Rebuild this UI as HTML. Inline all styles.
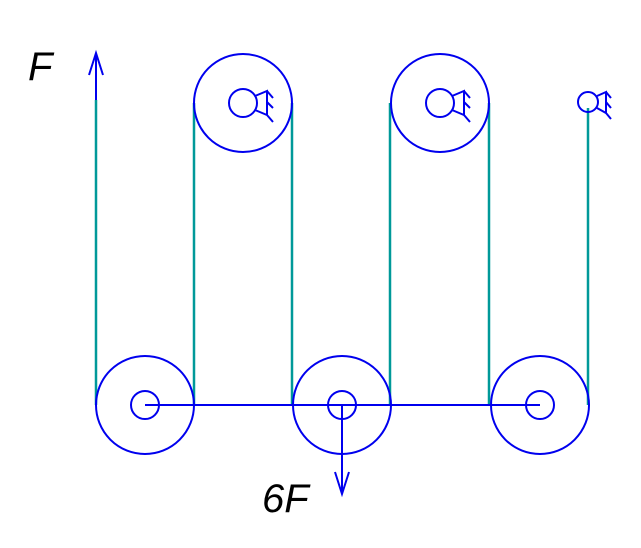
<!DOCTYPE html><html><head><style>body{margin:0;background:#fff}</style></head><body>
<svg width="641" height="543" xmlns="http://www.w3.org/2000/svg">
<g stroke="#009999" stroke-width="2.5">
<line x1="96" y1="100" x2="96" y2="405"/><line x1="194" y1="103" x2="194" y2="405"/>
<line x1="292" y1="103" x2="292" y2="405"/><line x1="390" y1="103" x2="390" y2="405"/>
<line x1="489" y1="103" x2="489" y2="405"/><line x1="588" y1="108" x2="588" y2="405"/>
</g>
<g stroke="#0000ee" stroke-width="2" fill="none">
<circle cx="243" cy="103" r="49"/><circle cx="440" cy="103" r="49"/>
<circle cx="145" cy="405" r="49"/><circle cx="342" cy="405" r="49"/><circle cx="540" cy="405" r="49"/>
<circle cx="145" cy="405" r="14"/><circle cx="342" cy="405" r="14"/><circle cx="540" cy="405" r="14"/>
<line x1="145" y1="405" x2="540" y2="405"/>
<g id="s"><circle cx="243" cy="103" r="14"/><path d="M255 96 L267 91 L267 115 L255 110 M267 91 L273 98 M267 102 L273 108 M267 115 L273 122"/></g>
<use href="#s" x="197"/>
<circle cx="588" cy="102" r="10"/><path d="M597 96 L606 92 L606 113 L597 108 M606 92 L611 98 M606 102 L611 108 M606 113 L611 119"/>
<line x1="96" y1="100" x2="96" y2="53"/><path d="M89 75 L96 53 L103 75"/>
<line x1="342" y1="405" x2="342" y2="494"/><path d="M335 472 L342 494 L349 472"/>
</g>
<g font-family="Liberation Sans, sans-serif" font-style="italic" font-size="40" fill="#000">
<text x="28" y="80">F</text><text x="262" y="512">6F</text></g>
</svg></body></html>
